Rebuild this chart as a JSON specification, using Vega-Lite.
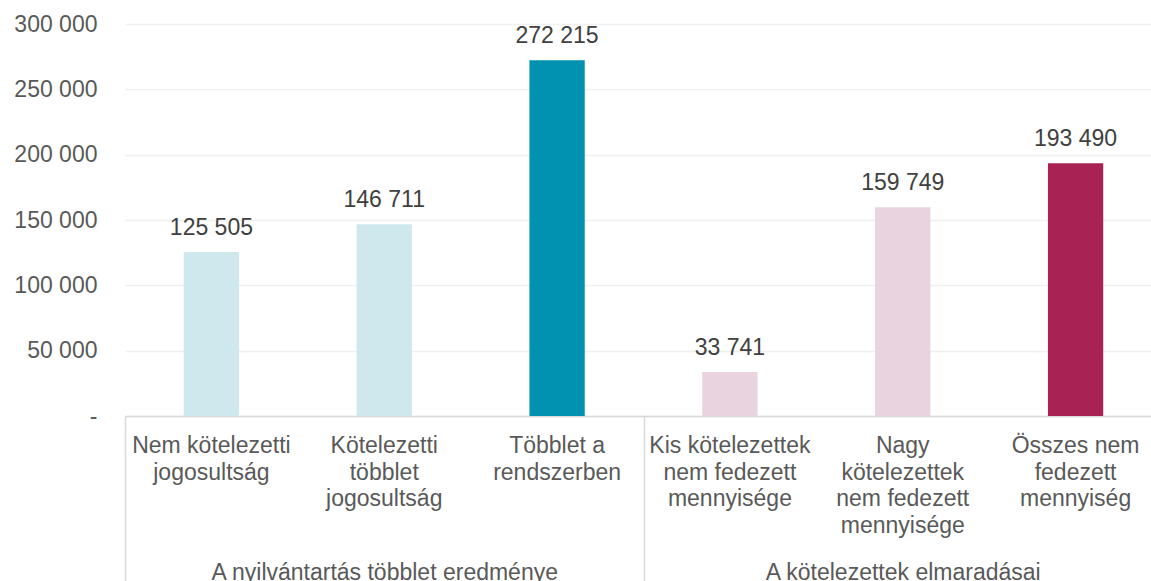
{
  "$schema": "https://vega.github.io/schema/vega-lite/v6.json",
  "width": 1026,
  "height": 392,
  "autosize": "none",
  "padding": {"left": 125, "top": 24, "right": 0, "bottom": 165},
  "background": "white",
  "config": {
    "view": {"stroke": null},
    "font": "Liberation Sans",
    "locale": {"number": {"decimal": ",", "thousands": "\u00a0", "grouping": [3], "currency": ["", ""]}}
  },
  "data": {
    "values": [
      {"cat": "Nem kötelezetti|jogosultság", "group": "A nyilvántartás többlet eredménye", "value": 125505},
      {"cat": "Kötelezetti|többlet|jogosultság", "group": "A nyilvántartás többlet eredménye", "value": 146711},
      {"cat": "Többlet a|rendszerben", "group": "A nyilvántartás többlet eredménye", "value": 272215},
      {"cat": "Kis kötelezettek|nem fedezett|mennyisége", "group": "A kötelezettek elmaradásai", "value": 33741},
      {"cat": "Nagy|kötelezettek|nem fedezett|mennyisége", "group": "A kötelezettek elmaradásai", "value": 159749},
      {"cat": "Összes nem|fedezett|mennyiség", "group": "A kötelezettek elmaradásai", "value": 193490}
    ]
  },
  "resolve": {"scale": {"x": "independent"}, "axis": {"x": "independent"}},
  "layer": [
    {
      "encoding": {
        "x": {
          "field": "cat", "type": "nominal", "sort": null,
          "scale": {"type": "band", "paddingInner": 0.68, "paddingOuter": 0.34, "range": [0, 1037]},
          "axis": {
            "orient": "bottom", "title": null, "labelAngle": 0,
            "labelExpr": "split(datum.label, '|')",
            "labelFontSize": 23, "labelColor": "#595959", "labelLineHeight": 26.7,
            "labelPadding": 18.5, "labelBaseline": "top", "labelLimit": 0,
            "ticks": false, "tickSize": 0, "grid": false,
            "domainColor": "#D9D9D9", "domainWidth": 1.5
          }
        },
        "y": {
          "field": "value", "type": "quantitative",
          "scale": {"domain": [0, 300000], "nice": false, "zero": true},
          "axis": {
            "title": null, "values": [0, 50000, 100000, 150000, 200000, 250000, 300000],
            "labelExpr": "datum.value == 0 ? '-' : format(datum.value, ',')",
            "labelFontSize": 23, "labelColor": "#595959", "labelPadding": 28,
            "domain": false, "ticks": false,
            "grid": true, "gridColor": "#F0F0F0", "gridWidth": 1.5,
            "encode": {"labels": {"update": {"dx": {"signal": "datum.value == 0 ? -13 : 0"}}}}
          }
        }
      },
      "layer": [
        {
          "mark": {"type": "bar"},
          "encoding": {
            "color": {
              "field": "cat", "type": "nominal", "legend": null,
              "scale": {
                "domain": ["Nem kötelezetti|jogosultság", "Kötelezetti|többlet|jogosultság", "Többlet a|rendszerben", "Kis kötelezettek|nem fedezett|mennyisége", "Nagy|kötelezettek|nem fedezett|mennyisége", "Összes nem|fedezett|mennyiség"],
                "range": ["#CFE8EE", "#CFE8EE", "#0092B0", "#E8D3DF", "#E8D3DF", "#A82353"]
              }
            }
          }
        },
        {
          "mark": {"type": "text", "fontSize": 23, "color": "#404040", "baseline": "alphabetic", "dy": -17},
          "encoding": {"text": {"field": "value", "type": "quantitative", "format": ","}}
        }
      ]
    },
    {
      "mark": {"type": "text", "opacity": 0},
      "encoding": {
        "text": {"value": ""},
        "x": {
          "field": "group", "type": "nominal", "sort": null,
          "scale": {"type": "band", "paddingInner": 0, "paddingOuter": 0, "range": [0, 1037]},
          "axis": {
            "orient": "bottom", "title": null, "labelAngle": 0,
            "labelFontSize": 23, "labelColor": "#595959", "labelBaseline": "top", "labelLimit": 0,
            "labelPadding": -29.5, "tickBand": "extent", "ticks": true, "tickSize": 175,
            "tickColor": "#D9D9D9", "tickWidth": 1.5, "domain": false, "grid": false
          }
        }
      }
    }
  ]
}
